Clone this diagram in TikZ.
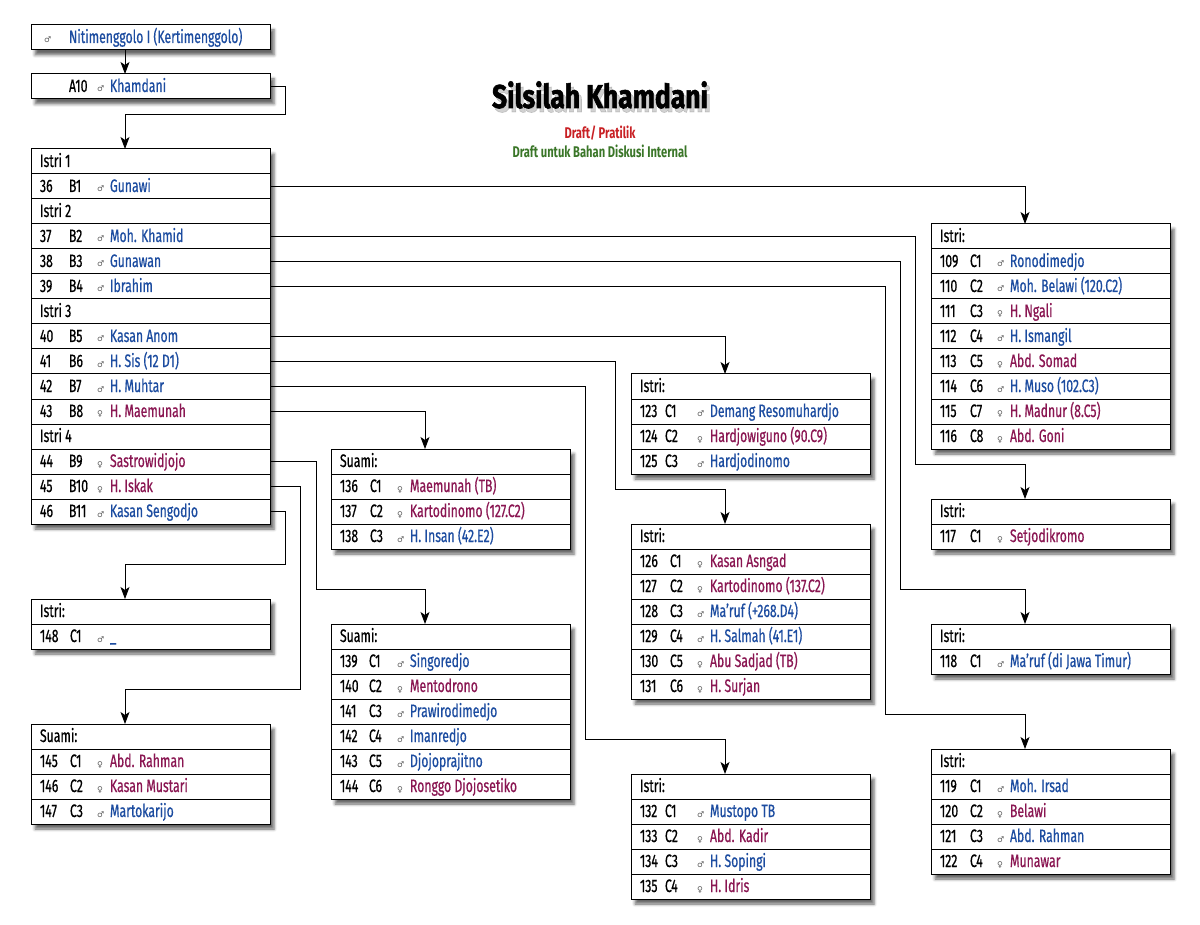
\documentclass[tikz,border=0pt]{standalone}
\usepackage{fontspec}
\setmainfont{Fira Sans}[FakeStretch=0.68, FakeBold=0.6]
\newfontfamily\titlefont{Fira Sans Bold}[FakeStretch=0.80, FakeBold=1.6]
\newfontfamily\subfont{Fira Sans Bold}[FakeStretch=0.72]
\newfontfamily\symfont{DejaVu Sans}
\usetikzlibrary{arrows.meta,calc,shadows.blur}
\definecolor{mblue}{RGB}{28,76,160}
\definecolor{fred}{RGB}{138,22,82}
\definecolor{symgray}{RGB}{90,90,90}
\definecolor{ttlred}{RGB}{200,32,36}
\definecolor{ttlgreen}{RGB}{58,118,40}
\tikzset{
  frame/.style={draw, line width=1pt, fill=white, inner sep=0pt, outer sep=0pt,
    minimum width=239pt, anchor=north west,
    blur shadow={shadow xshift=4pt, shadow yshift=-5pt, shadow blur radius=3pt, shadow opacity=60}},
  rowbox/.style={draw, line width=1pt, inner sep=0pt, outer sep=0pt,
    minimum width=239pt, minimum height=25pt, anchor=north west},
  txt/.style={inner sep=0pt, outer sep=0pt, anchor=base west, font=\fontsize{18}{21}\selectfont},
  symb/.style={inner sep=0pt, outer sep=0pt, anchor=base west, text=symgray, font=\symfont\fontsize{8}{9}\selectfont},
  conn/.style={draw, line width=0.9pt, -{Stealth[length=12pt,width=9pt,inset=3pt]}},
  ttl/.style={inner sep=0pt, anchor=base, font=\titlefont\fontsize{33}{36}\selectfont},
  sub/.style={inner sep=0pt, anchor=base, font=\subfont\fontsize{15.5}{18}\selectfont},
}
% first header row of a box with frame: name, x, y, nrows, text
\newcommand\boxhead[5]{%
  \node[frame, minimum height=#4*25pt] (#1frame) at (#2,#3) {};
  \node[rowbox] (#1) at (#2,#3) {};
  \node[txt] (#1t) at ($(#1.north west)+(9,18)$) {#5};}
% header row following prev: name, prev, text
\newcommand\hrow[3]{%
  \node[rowbox] (#1) at (#2.south west) {};
  \node[txt] (#1t) at ($(#1.north west)+(9,18)$) {#3};}
% person row: name, prev, num, code, codeoffset, symbol, color, person
\newcommand\prow[8]{%
  \node[rowbox] (#1) at (#2.south west) {};
  \node[txt] (#1a) at ($(#1.north west)+(9,18)$) {#3};
  \node[txt] (#1b) at ($(#1.north west)+(#5,18)$) {#4};
  \node[symb] (#1c) at ($(#1.north west)+(66,18)$) {#6};
  \node[txt, text=#7] (#1d) at ($(#1.north west)+(79,18)$) {#8};}
\begin{document}
\begin{tikzpicture}[x=1pt,y=-1pt]
\useasboundingbox (0,0) rectangle (1200,925);
% title
\node[ttl, text=black!60, opacity=0.3] (titlesh) at (603,112) {Silsilah Khamdani};
\node[ttl] (title) at (600,108) {Silsilah Khamdani};
\node[sub, text=ttlred] (sub1) at (600,138.5) {Draft/ Pratilik};
\node[sub, text=ttlgreen] (sub2) at (600,158) {Draft untuk Bahan Diskusi Internal};

% top box
\node[frame, minimum height=25pt] (n0frame) at (31,25) {};
\node[rowbox] (n0) at (31,25) {};
\node[symb] (n0c) at ($(n0.north west)+(13,18)$) {♂};
\node[txt, text=mblue] (n0d) at ($(n0.north west)+(38,18)$) {Nitimenggolo I (Kertimenggolo)};
% A10 box
\node[frame, minimum height=25pt] (a10frame) at (31,74) {};
\node[rowbox] (a10) at (31,74) {};
\node[txt] (a10b) at ($(a10.north west)+(38,18)$) {A10};
\node[symb] (a10c) at ($(a10.north west)+(66,18)$) {♂};
\node[txt, text=mblue] (a10d) at ($(a10.north west)+(79,18)$) {Khamdani};

% main box
\boxhead{i1}{31}{149}{15}{Istri 1}
\prow{b1}{i1}{36}{B1}{38}{♂}{mblue}{Gunawi}
\hrow{i2}{b1}{Istri 2}
\prow{b2}{i2}{37}{B2}{38}{♂}{mblue}{Moh. Khamid}
\prow{b3}{b2}{38}{B3}{38}{♂}{mblue}{Gunawan}
\prow{b4}{b3}{39}{B4}{38}{♂}{mblue}{Ibrahim}
\hrow{i3}{b4}{Istri 3}
\prow{b5}{i3}{40}{B5}{38}{♂}{mblue}{Kasan Anom}
\prow{b6}{b5}{41}{B6}{38}{♂}{mblue}{H. Sis (12 D1)}
\prow{b7}{b6}{42}{B7}{38}{♂}{mblue}{H. Muhtar}
\prow{b8}{b7}{43}{B8}{38}{♀}{fred}{H. Maemunah}
\hrow{i4}{b8}{Istri 4}
\prow{b9}{i4}{44}{B9}{38}{♀}{fred}{Sastrowidjojo}
\prow{b10}{b9}{45}{B10}{38}{♀}{fred}{H. Iskak}
\prow{b11}{b10}{46}{B11}{38}{♂}{mblue}{Kasan Sengodjo}

% box 109-116
\boxhead{h109}{931}{224}{9}{Istri:}
\prow{c109}{h109}{109}{C1}{39}{♂}{mblue}{Ronodimedjo}
\prow{c110}{c109}{110}{C2}{39}{♂}{mblue}{Moh. Belawi (120.C2)}
\prow{c111}{c110}{111}{C3}{39}{♀}{fred}{H. Ngali}
\prow{c112}{c111}{112}{C4}{39}{♂}{mblue}{H. Ismangil}
\prow{c113}{c112}{113}{C5}{39}{♀}{fred}{Abd. Somad}
\prow{c114}{c113}{114}{C6}{39}{♂}{mblue}{H. Muso (102.C3)}
\prow{c115}{c114}{115}{C7}{39}{♀}{fred}{H. Madnur (8.C5)}
\prow{c116}{c115}{116}{C8}{39}{♀}{fred}{Abd. Goni}
% box 117
\boxhead{h117}{931}{499}{2}{Istri:}
\prow{c117}{h117}{117}{C1}{39}{♀}{fred}{Setjodikromo}
% box 118
\boxhead{h118}{931}{624}{2}{Istri:}
\prow{c118}{h118}{118}{C1}{39}{♂}{mblue}{Ma’ruf (di Jawa Timur)}
% box 119-122
\boxhead{h119}{931}{749}{5}{Istri:}
\prow{c119}{h119}{119}{C1}{39}{♂}{mblue}{Moh. Irsad}
\prow{c120}{c119}{120}{C2}{39}{♀}{fred}{Belawi}
\prow{c121}{c120}{121}{C3}{39}{♂}{mblue}{Abd. Rahman}
\prow{c122}{c121}{122}{C4}{39}{♀}{fred}{Munawar}
% box 123-125
\boxhead{h123}{631}{374}{4}{Istri:}
\prow{c123}{h123}{123}{C1}{34}{♂}{mblue}{Demang Resomuhardjo}
\prow{c124}{c123}{124}{C2}{34}{♀}{fred}{Hardjowiguno (90.C9)}
\prow{c125}{c124}{125}{C3}{34}{♂}{mblue}{Hardjodinomo}
% box 126-131
\boxhead{h126}{631}{524}{7}{Istri:}
\prow{c126}{h126}{126}{C1}{39}{♀}{fred}{Kasan Asngad}
\prow{c127}{c126}{127}{C2}{39}{♀}{fred}{Kartodinomo (137.C2)}
\prow{c128}{c127}{128}{C3}{39}{♂}{mblue}{Ma’ruf (+268.D4)}
\prow{c129}{c128}{129}{C4}{39}{♂}{mblue}{H. Salmah (41.E1)}
\prow{c130}{c129}{130}{C5}{39}{♀}{fred}{Abu Sadjad (TB)}
\prow{c131}{c130}{131}{C6}{39}{♀}{fred}{H. Surjan}
% box 132-135
\boxhead{h132}{631}{774}{5}{Istri:}
\prow{c132}{h132}{132}{C1}{34}{♂}{mblue}{Mustopo TB}
\prow{c133}{c132}{133}{C2}{34}{♀}{fred}{Abd. Kadir}
\prow{c134}{c133}{134}{C3}{34}{♂}{mblue}{H. Sopingi}
\prow{c135}{c134}{135}{C4}{34}{♀}{fred}{H. Idris}
% box 136-138
\boxhead{h136}{331}{449}{4}{Suami:}
\prow{c136}{h136}{136}{C1}{39}{♀}{fred}{Maemunah (TB)}
\prow{c137}{c136}{137}{C2}{39}{♀}{fred}{Kartodinomo (127.C2)}
\prow{c138}{c137}{138}{C3}{39}{♂}{mblue}{H. Insan (42.E2)}
% box 139-144
\boxhead{h139}{331}{624}{7}{Suami:}
\prow{c139}{h139}{139}{C1}{38}{♂}{mblue}{Singoredjo}
\prow{c140}{c139}{140}{C2}{38}{♀}{fred}{Mentodrono}
\prow{c141}{c140}{141}{C3}{38}{♂}{mblue}{Prawirodimedjo}
\prow{c142}{c141}{142}{C4}{38}{♂}{mblue}{Imanredjo}
\prow{c143}{c142}{143}{C5}{38}{♂}{mblue}{Djojoprajitno}
\prow{c144}{c143}{144}{C6}{38}{♀}{fred}{Ronggo Djojosetiko}
% box 148
\boxhead{h148}{31}{599}{2}{Istri:}
\prow{c148}{h148}{148}{C1}{39}{♂}{mblue}{\_}
% box 145-147
\boxhead{h145}{31}{724}{4}{Suami:}
\prow{c145}{h145}{145}{C1}{39}{♀}{fred}{Abd. Rahman}
\prow{c146}{c145}{146}{C2}{39}{♀}{fred}{Kasan Mustari}
\prow{c147}{c146}{147}{C3}{39}{♂}{mblue}{Martokarijo}

% connectors
\draw[conn] ($(n0.south west)+(94,0)$) -- ($(a10.north west)+(94,0)$);
\draw[conn] (a10.east) -- ++(15,0) -- ++(0,28) -| ($(i1.north west)+(94,0)$);
\draw[conn] (b1.east) -| ($(h109.north west)+(94,0)$);
\draw[conn] (b2.east) -| (915,464) -| ($(h117.north west)+(94,0)$);
\draw[conn] (b3.east) -| (900,589) -| ($(h118.north west)+(94,0)$);
\draw[conn] (b4.east) -| (885,714) -| ($(h119.north west)+(94,0)$);
\draw[conn] (b5.east) -| ($(h123.north west)+(94,0)$);
\draw[conn] (b6.east) -| (615,489) -| ($(h126.north west)+(94,0)$);
\draw[conn] (b7.east) -| (585,739) -| ($(h132.north west)+(94,0)$);
\draw[conn] (b8.east) -| ($(h136.north west)+(94,0)$);
\draw[conn] (b9.east) -| (316,589) -| ($(h139.north west)+(94,0)$);
\draw[conn] (b10.east) -| (300,689) -| ($(h145.north west)+(94,0)$);
\draw[conn] (b11.east) -| (285,564) -| ($(h148.north west)+(94,0)$);
\end{tikzpicture}
\end{document}
